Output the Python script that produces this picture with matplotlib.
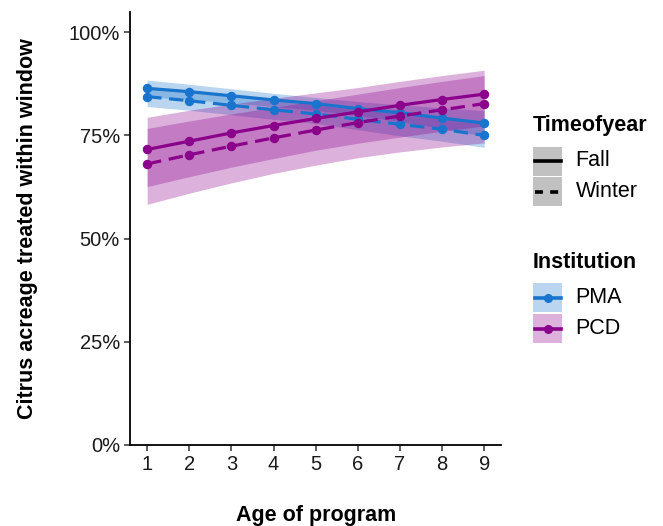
import matplotlib
matplotlib.use("Agg")
import matplotlib.pyplot as plt
from matplotlib.patches import Rectangle
from matplotlib.lines import Line2D
import numpy as np

plt.rcParams['font.family'] = ['Liberation Sans', 'DejaVu Sans']

# ---- data (percent) ----
age = [1, 2, 3, 4, 5, 6, 7, 8, 9]
institutions = ["PMA", "PCD"]
seasons = ["Fall", "Winter"]

pma_fall = [86.4, 85.6, 84.6, 83.6, 82.7, 81.5, 80.5, 79.2, 78.0]
pma_winter = [84.4, 83.4, 82.3, 81.2, 80.2, 78.9, 77.7, 76.5, 75.0]
pcd_fall = [71.6, 73.6, 75.6, 77.4, 79.1, 80.7, 82.3, 83.7, 85.0]
pcd_winter = [68.1, 70.3, 72.4, 74.4, 76.3, 78.1, 79.7, 81.2, 82.7]

pma_fall_hi = [88.4, 87.4, 86.3, 85.2, 84.2, 83.2, 82.4, 81.7, 81.0]
pma_fall_lo = [84.3, 83.7, 82.9, 82.0, 81.1, 79.8, 78.4, 76.7, 74.8]
pma_winter_hi = [86.6, 85.6, 84.6, 83.5, 82.4, 81.3, 80.3, 79.4, 78.4]
pma_winter_lo = [82.0, 81.1, 80.0, 78.9, 77.9, 76.4, 74.9, 73.6, 72.1]
pcd_fall_hi = [79.4, 81.1, 82.6, 84.0, 85.3, 86.6, 88.1, 89.5, 90.8]
pcd_fall_lo = [62.6, 65.0, 67.3, 69.4, 71.4, 73.1, 74.6, 76.0, 77.3]
pcd_winter_hi = [76.7, 78.5, 80.2, 81.8, 83.4, 85.0, 86.6, 88.1, 89.5]
pcd_winter_lo = [58.3, 61.0, 63.5, 65.8, 67.8, 69.6, 71.0, 72.2, 73.2]

y_ticks = [0, 25, 50, 75, 100]
y_tick_labels = ["0%", "25%", "50%", "75%", "100%"]

colors = {"PMA": "#1874CD", "PCD": "#8B008B"}
fill_alpha = 0.3
dash = (0, (4.5, 2.4))
styles = {"Fall": "-", "Winter": dash}

series = {
    ("PMA", "Fall"): (pma_fall, pma_fall_lo, pma_fall_hi),
    ("PMA", "Winter"): (pma_winter, pma_winter_lo, pma_winter_hi),
    ("PCD", "Fall"): (pcd_fall, pcd_fall_lo, pcd_fall_hi),
    ("PCD", "Winter"): (pcd_winter, pcd_winter_lo, pcd_winter_hi),
}

W, H = 663, 526
fig = plt.figure(figsize=(W / 100, H / 100), dpi=100)
L, R, T, B = 130.3, 501, 12, 445
ax = fig.add_axes([L / W, (H - B) / H, (R - L) / W, (B - T) / H])

for inst in institutions:
    for s in seasons:
        mid, lo, hi = series[(inst, s)]
        ax.fill_between(age, lo, hi, color=colors[inst], alpha=fill_alpha,
                        linewidth=0, zorder=1)
for inst in institutions:
    for s in seasons:
        mid, lo, hi = series[(inst, s)]
        ax.plot(age, mid, color=colors[inst], linestyle=styles[s], linewidth=2.3,
                marker="o", markersize=5.8, zorder=3, dash_capstyle="butt")

ax.set_xlim(0.6, 9.4)
ax.set_ylim(0, 104.9)
ax.set_xticks(age)
ax.set_xticklabels([str(a) for a in age])
ax.set_yticks(y_ticks)
ax.set_yticklabels(y_tick_labels)
for sp in ["top", "right"]:
    ax.spines[sp].set_visible(False)
for sp in ["left", "bottom"]:
    ax.spines[sp].set_linewidth(1.3)
    ax.spines[sp].set_color("black")
ax.tick_params(axis="both", length=4.5, width=1.1, color="#333333",
               labelsize=14.5, labelcolor="#1a1a1a", pad=3)

ax.set_xlabel("Age of program", fontsize=15.5, fontweight="bold", labelpad=22)
ax.set_ylabel("Citrus acreage treated within window", fontsize=15.5,
              fontweight="bold", labelpad=22)

# ---- legend (pixel coordinates overlay) ----
lax = fig.add_axes([0, 0, 1, 1])
lax.set_xlim(0, W)
lax.set_ylim(H, 0)
lax.axis("off")

kx, kw, kh = 533.3, 28.7, 29
lax.text(533, 131, "Timeofyear", fontsize=15.5, fontweight="bold",
         va="baseline", ha="left")
key_grey = (0.2, 0.2, 0.2, 0.3)
for i, s in enumerate(seasons):
    ky = 146.5 + i * 30.8
    lax.add_patch(Rectangle((kx, ky), kw, kh, facecolor=key_grey, edgecolor="none"))
    lax.add_line(Line2D([kx + 1.5, kx + kw - 1.5], [ky + kh / 2] * 2, color="black",
                        linewidth=2.6, linestyle="-" if s == "Fall" else (0, (2.2, 2.0))))
    lax.text(575.5, ky + kh / 2, s, fontsize=15.5, va="center", ha="left")

lax.text(533, 268.3, "Institution", fontsize=15.5, fontweight="bold",
         va="baseline", ha="left")
for i, inst in enumerate(institutions):
    ky = 283.3 + i * 30.8
    lax.add_patch(Rectangle((kx, ky), kw, kh, facecolor=colors[inst],
                            alpha=fill_alpha, edgecolor="none"))
    lax.add_line(Line2D([kx + 1.5, kx + kw - 1.5], [ky + kh / 2] * 2,
                        color=colors[inst], linewidth=2.6))
    lax.add_line(Line2D([kx + kw / 2], [ky + kh / 2], color=colors[inst],
                        marker="o", markersize=5.5, linestyle="none"))
    lax.text(575.5, ky + kh / 2, inst, fontsize=15.5, va="center", ha="left")

fig.savefig("out.png", dpi=100)
